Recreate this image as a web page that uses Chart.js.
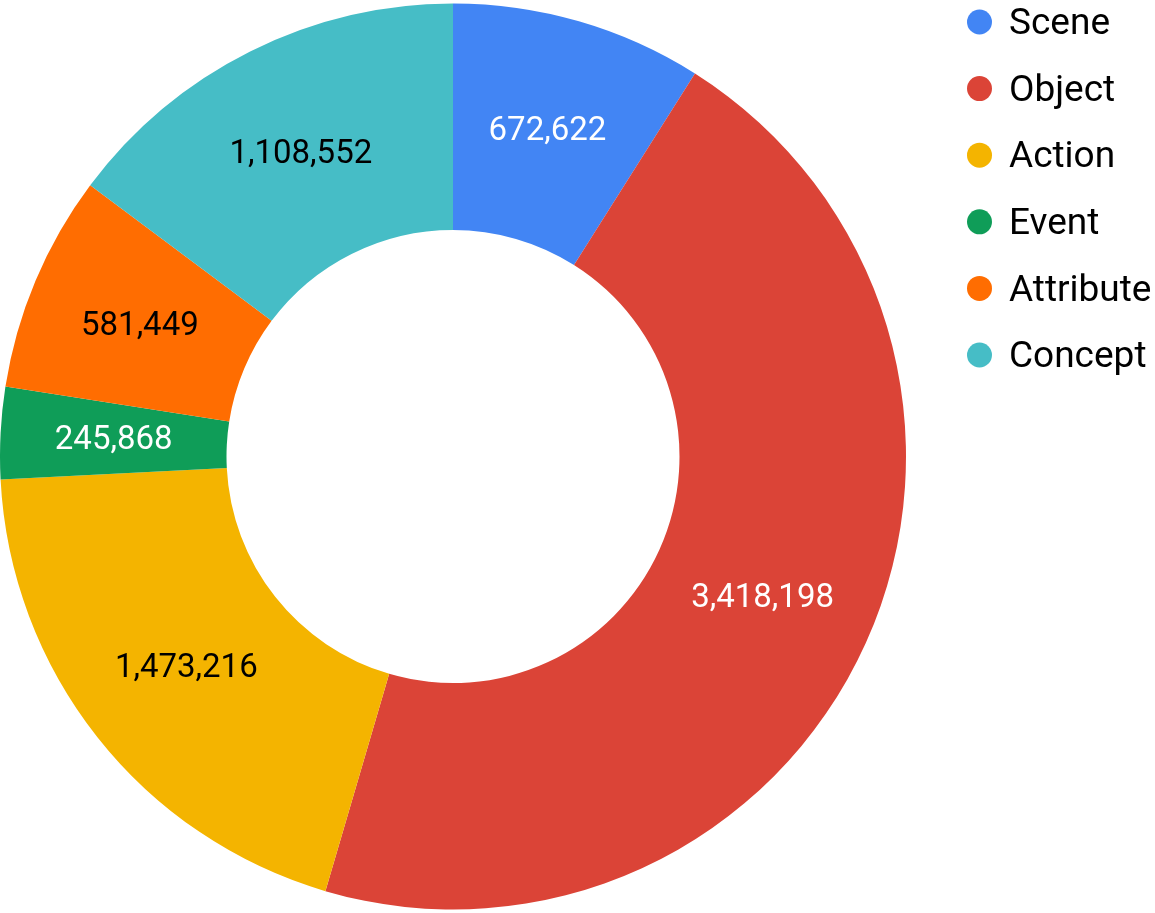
<html>
	<head>
		<title>Category counts</title>
		<style>
			body {
				margin: 0;
				padding: 0;
				background: #fff;
			}
			#wrap {
				position: relative;
				width: 1155px;
				height: 913px;
			}
		</style>
	</head>
	<body>
		<div id="wrap">
			<canvas id="myChart"></canvas>
		</div>
		<script src="https://cdn.jsdelivr.net/npm/chart.js@4/dist/chart.umd.min.js"></script>
		<script>
			const categories = ["Scene", "Object", "Action", "Event", "Attribute", "Concept"];
			const counts = [672622, 3418198, 1473216, 245868, 581449, 1108552];
			const colors = ["#4285f4", "#db4437", "#f4b400", "#0f9d58", "#ff6d01", "#46bdc6"];
			const labelColors = ["#fff", "#fff", "#000", "#fff", "#000", "#000"];

			const font = '"Roboto", "Noto Sans", sans-serif';

			// values drawn at the middle of each slice
			const sliceLabels = {
				id: "sliceLabels",
				afterDatasetsDraw(chart) {
					const c = chart.ctx;
					const meta = chart.getDatasetMeta(0);
					c.save();
					c.font = "33px " + font;
					c.textAlign = "center";
					c.textBaseline = "middle";
					meta.data.forEach((arc, i) => {
						const p = arc.getCenterPoint();
						c.fillStyle = labelColors[i];
						c.fillText(counts[i].toLocaleString("en-US"), p.x, p.y + 2);
					});
					c.restore();
				},
			};

			// legend drawn by hand to keep it where the picture has it
			const sideLegend = {
				id: "sideLegend",
				afterDraw(chart) {
					const c = chart.ctx;
					const x = 979.5, y0 = 22, step = 66.6;
					c.save();
					c.font = "37px " + font;
					c.textBaseline = "middle";
					chart.data.labels.forEach((lab, i) => {
						const y = y0 + i * step;
						c.fillStyle = colors[i];
						c.beginPath();
						c.arc(x, y, 12.5, 0, Math.PI * 2);
						c.fill();
						c.fillStyle = "#000";
						c.fillText(lab, 1009, y + 3);
					});
					c.restore();
				},
			};

			new Chart(document.getElementById("myChart"), {
				type: "doughnut",
				data: {
					labels: categories,
					datasets: [
						{
							data: counts,
							backgroundColor: colors,
							borderWidth: 0,
						},
					],
				},
				options: {
					responsive: true,
					maintainAspectRatio: false,
					animation: false,
					cutout: "50%",
					layout: { padding: { left: 0, top: 0, bottom: 0, right: 249 } },
					plugins: {
						legend: { display: false },
						tooltip: { enabled: false },
					},
				},
				plugins: [sliceLabels, sideLegend],
			});
		</script>
	</body>
</html>
